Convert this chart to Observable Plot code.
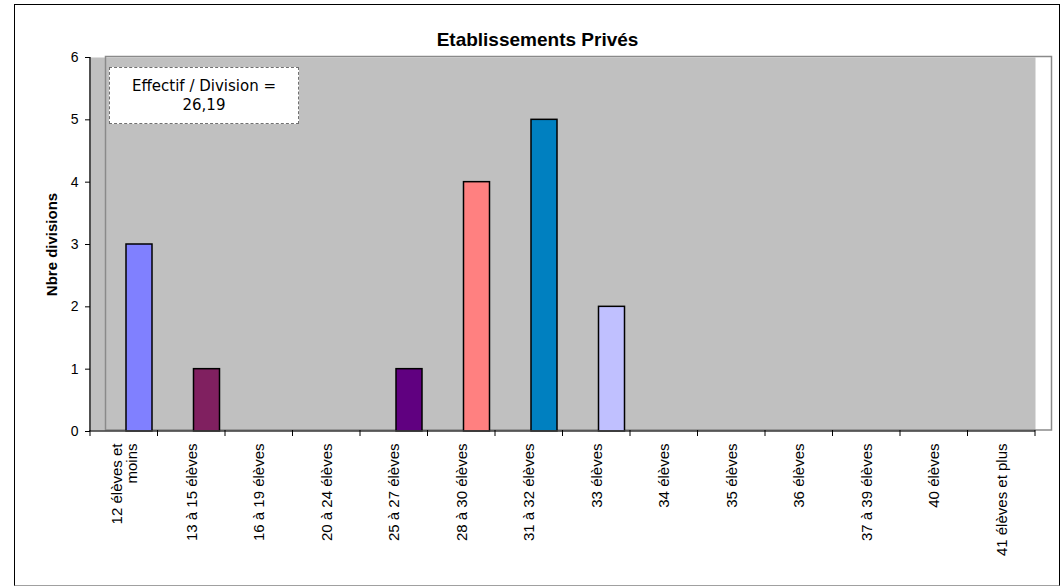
<!DOCTYPE html>
<html>
<head>
<meta charset="utf-8">
<script src="https://cdn.jsdelivr.net/npm/d3@7"></script>
<script src="https://cdn.jsdelivr.net/npm/@observablehq/plot@0.6"></script>
<style>
  html, body { margin: 0; padding: 0; background: #fff; }
  #wrap { position: relative; width: 1062px; height: 587px; overflow: hidden; }
  #chart { position: absolute; left: 0; top: 0; }
  #border { position: absolute; left: 14px; top: 4px; width: 1044px; height: 580px;
            border: 1.5px solid #000; border-bottom-color: #a0a0a0; pointer-events: none; }
  #title { position: absolute; left: 14px; width: 1047px; top: 30px; text-align: center;
           font: bold 19px/20px "Liberation Sans", Arial, sans-serif; color: #000; }
  #note { position: absolute; left: 109px; top: 67px; width: 188px; height: 55px;
          border: 1px dashed #707070; background: #fff; text-align: center;
          font: 15px/19px "DejaVu Sans", Verdana, sans-serif; color: #000;
          box-sizing: content-box; padding-top: 0; }
  #note div:first-child { margin-top: 9px; }
</style>
</head>
<body>
<div id="wrap">
  <div id="chart"></div>
  <div id="title">Etablissements Privés</div>
  <div id="note"><div>Effectif / Division =</div><div>26,19</div></div>
  <div id="border"></div>
</div>
<script>
const categories = [
  "12 élèves et moins", "13 à 15 élèves", "16 à 19 élèves", "20 à 24 élèves",
  "25 à 27 élèves", "28 à 30 élèves", "31 à 32 élèves", "33 élèves",
  "34 élèves", "35 élèves", "36 élèves", "37 à 39 élèves", "40 élèves",
  "41 élèves et plus"
];
const divisions = [3, 1, 0, 0, 1, 4, 5, 2, 0, 0, 0, 0, 0, 0];
const barColors = [
  "#8080FF", "#802060", "#FFFFC0", "#A0E0E0", "#600080", "#FF8080", "#0080C0",
  "#C0C0FF", "#000080", "#FF00FF", "#FFFF00", "#00FFFF", "#800080", "#800000"
];
const yTicks = [0, 1, 2, 3, 4, 5, 6];
const yLabel = "Nbre divisions";

const data = categories.map((cat, i) => ({cat, n: divisions[i], color: barColors[i]}));

// axis decorations drawn from the library's scales
const axisDecor = (index, scales) => {
  const g = d3.create("svg:g");
  const xs = categories.map(c => scales.x(c));
  const bw = xs[1] - xs[0];
  const edges = [...xs, xs[xs.length - 1] + bw];
  const y0 = scales.y(0), yTop = scales.y(d3.max(yTicks));
  g.append("line")
    .attr("x1", xs[0]).attr("x2", xs[0]).attr("y1", yTop).attr("y2", y0)
    .attr("stroke", "#505050").attr("stroke-width", 2);
  g.append("line")
    .attr("x1", xs[0]).attr("x2", edges[edges.length - 1]).attr("y1", y0).attr("y2", y0)
    .attr("stroke", "#404040").attr("stroke-width", 1.5);
  for (const x of edges) {
    g.append("line")
      .attr("x1", x).attr("x2", x).attr("y1", y0 - 1).attr("y2", y0 + 5)
      .attr("stroke", "#000").attr("stroke-width", 1);
  }
  return g.node();
};

const chart = Plot.plot({
  width: 1062,
  height: 587,
  marginLeft: 90,
  marginRight: 27,
  marginTop: 57,
  marginBottom: 156,
  style: {fontFamily: "'Liberation Sans', Arial, sans-serif", background: "transparent", color: "#000"},
  x: {type: "band", domain: categories, padding: 0, round: false, axis: null},
  y: {domain: [0, 6], axis: null},
  color: {type: "identity"},
  marks: [
    Plot.frame({fill: "#c0c0c0", stroke: null}),
    Plot.frame({stroke: "#8a8a8a", strokeWidth: 1.5, insetLeft: 15, insetRight: -16, insetTop: -1, insetBottom: 1.5}),
    Plot.barY(data.filter(d => d.n > 0), {
      x: "cat", y: "n", fill: "color", stroke: "#000", strokeWidth: 1.5,
      insetLeft: 36, insetRight: 5.5
    }),
    axisDecor,
    Plot.axisY({
      ticks: yTicks, tickSize: 5, tickPadding: 7, fontSize: 14, label: null,
      tickFormat: d => String(d), stroke: "#000"
    }),
    Plot.text([yLabel], {
      text: d => d, frameAnchor: "left", textAnchor: "middle", rotate: -90, dx: -38,
      fontWeight: "bold", fontSize: 15, fill: "#000"
    }),
    Plot.axisX({
      tickRotate: -90, tickSize: 0, tickPadding: 12, fontSize: 15, label: null,
      tickFormat: d => d === "12 élèves et moins" ? "12 élèves et\nmoins" : d
    })
  ]
});
document.getElementById("chart").appendChild(chart);
</script>
</body>
</html>
